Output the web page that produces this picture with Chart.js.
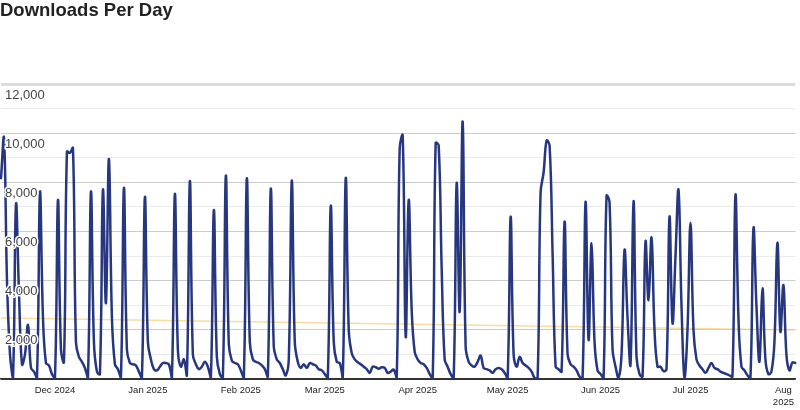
<!DOCTYPE html>
<html>
<head>
<meta charset="utf-8">
<title>Downloads Per Day</title>
<script src="https://cdn.jsdelivr.net/npm/chart.js@4.4.1/dist/chart.umd.min.js"></script>
<style>
  html, body { margin: 0; padding: 0; background: #fff; }
  #wrap { position: relative; width: 800px; height: 410px; overflow: hidden; }
  h2 { position: absolute; left: 0; top: 0; margin: 0; font: bold 18.5px/20px "Liberation Sans", Arial, sans-serif; color: #222; }
  canvas { position: absolute; left: 0; top: 0; }
</style>
</head>
<body>
<div id="wrap">
  <canvas id="downloadsChart" width="800" height="410"></canvas>
  <h2>Downloads Per Day</h2>
</div>
<script>
// first day of the series, one value per day after it
const startDate = '2024-11-13';

const downloads = [
  8170, 9800, 4000, 1000, 50, 7100, 3500, 600, 1000, 2200,
  450, 300, 50, 7600, 2500, 650, 550, 200, 50, 7280,
  1200, 700, 9250, 9200, 9400, 1500, 900, 700, 450, 50,
  7620, 1500, 300, 200, 7690, 3090, 8950, 2500, 600, 400,
  50, 7770, 1200, 650, 600, 550, 300, 50, 7400, 1500,
  800, 400, 350, 500, 650, 650, 600, 30, 7525, 1200,
  500, 800, 150, 8050, 1000, 600, 400, 500, 700, 500,
  50, 6870, 900, 200, 50, 8270, 1400, 750, 650, 600,
  350, 50, 8150, 1500, 800, 700, 650, 550, 400, 100,
  7740, 1300, 800, 650, 400, 150, 800, 8070, 1500, 700,
  450, 600, 450, 650, 600, 550, 400, 350, 200, 50,
  7040, 1500, 700, 650, 50, 8165, 2000, 1050, 800, 680,
  600, 500, 400, 250, 500, 480, 420, 480, 450, 250,
  300, 380, 50, 9400, 9900, 1720, 7280, 2800, 1100, 800,
  650, 600, 450, 200, 30, 9600, 9500, 4500, 800, 500,
  200, 50, 7960, 2740, 10470, 1300, 700, 550, 500, 700,
  950, 450, 400, 350, 250, 400, 450, 400, 250, 50,
  6600, 1000, 500, 900, 650, 550, 450, 300, 50, 50,
  7600, 8400, 9700, 9500, 5100, 500, 400, 300, 6400, 1000,
  600, 500, 350, 100, 30, 7200, 1590, 5520, 1500, 350,
  200, 50, 7450, 7200, 1200, 500, 50, 1000, 5250, 2500,
  600, 7240, 900, 200, 100, 5590, 3210, 5750, 2000, 500,
  500, 320, 400, 6600, 2270, 5000, 7690, 3000, 50, 2000,
  6360, 2000, 800, 550, 400, 250, 450, 650, 450, 400,
  300, 250, 200, 150, 100, 7480, 2500, 500, 350, 150,
  50, 6130, 3000, 700, 3690, 800, 200, 300, 1500, 5540,
  1930, 3820, 1000, 350, 670, 650
];

// trend line, value at first and last day
const trend = [2480, 1990];

const monthStarts = ['2024-12-01', '2025-01-01', '2025-02-01', '2025-03-01', '2025-04-01',
                     '2025-05-01', '2025-06-01', '2025-07-01', '2025-08-01'];
const monthLabels = ['Dec 2024', 'Jan 2025', 'Feb 2025', 'Mar 2025', 'Apr 2025',
                     'May 2025', 'Jun 2025', 'Jul 2025', 'Aug 2025'];

const days = downloads.map((_, i) => {
  const d = new Date(startDate + 'T00:00:00Z');
  d.setUTCDate(d.getUTCDate() + i);
  return d.toISOString().slice(0, 10);
});

const trendData = days.map((_, i) => {
  if (i === 0) return trend[0];
  if (i === days.length - 1) return trend[1];
  return null;
});

function yGridColor(ctx) {
  const v = ctx.tick.value;
  if (v === 12000) return '#dcdcdc';
  if (v === 0) return '#333';
  return v % 2000 === 0 ? '#cccccc' : '#ebebeb';
}

const ctx = document.getElementById('downloadsChart').getContext('2d');
new Chart(ctx, {
  type: 'line',
  data: {
    labels: days,
    datasets: [{
      label: 'Downloads',
      data: downloads,
      borderColor: '#26377f',
      borderWidth: 2.5,
      pointRadius: 0,
      tension: 0.4,
      borderJoinStyle: 'round',
      borderCapStyle: 'round',
      fill: false
    }, {
      label: 'Trend',
      data: trendData,
      borderColor: 'rgba(246, 204, 105, 0.65)',
      borderWidth: 1.5,
      pointRadius: 0,
      spanGaps: true,
      fill: false
    }]
  },
  options: {
    responsive: false,
    animation: false,
    layout: { padding: { top: 84, left: 1, right: 1, bottom: 0 } },
    plugins: {
      legend: { display: false },
      tooltip: { enabled: false }
    },
    scales: {
      x: {
        afterFit: scale => { scale.height = 31; },
        grid: {
          drawTicks: false,
          color: c => monthStarts.includes(days[c.index]) ? '#cccccc' : 'rgba(0,0,0,0)'
        },
        border: { display: true, color: '#333', width: 1.5 },
        ticks: {
          autoSkip: false,
          maxRotation: 0,
          minRotation: 0,
          padding: 6,
          color: '#222',
          font: { family: '"Liberation Sans", Arial, sans-serif', size: 9.5 },
          callback: function (value, index) {
            const k = monthStarts.indexOf(days[index]);
            if (k < 0) return null;
            return k === monthStarts.length - 1 ? monthLabels[k].split(' ') : monthLabels[k];
          }
        }
      },
      y: {
        min: 0,
        max: 12000,
        afterFit: scale => { scale.width = 0; },
        grid: {
          drawTicks: false,
          color: yGridColor,
          lineWidth: c => c.tick.value === 12000 ? 3 : 1
        },
        border: { display: false },
        ticks: {
          stepSize: 1000,
          mirror: true,
          padding: 4,
          labelOffset: 11,
          z: 1,
          color: '#444',
          textStrokeColor: '#fff',
          textStrokeWidth: 3,
          font: { family: '"Liberation Sans", Arial, sans-serif', size: 13 },
          callback: v => (v > 0 && v % 2000 === 0) ? v.toLocaleString('en-US') : ''
        }
      }
    }
  }
});
</script>
</body>
</html>
